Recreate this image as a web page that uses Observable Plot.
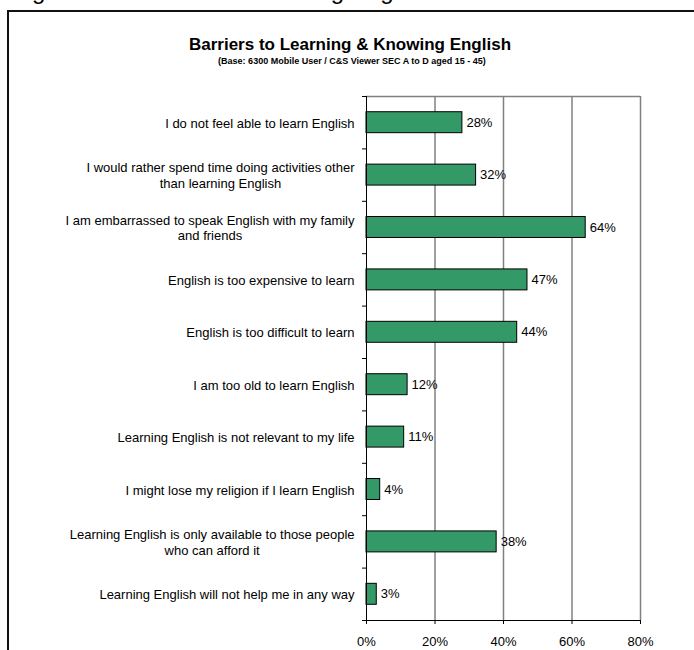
<!DOCTYPE html>
<html><head><meta charset="utf-8">
<script src="https://cdn.jsdelivr.net/npm/d3@7"></script>
<script src="https://cdn.jsdelivr.net/npm/@observablehq/plot@0.6"></script>
<style>
html,body{margin:0;padding:0;background:#fff;}
body{overflow:hidden;width:694px;height:650px;position:relative;font-family:"Liberation Sans",Arial,sans-serif;color:#000;}
#cap{position:absolute;left:12px;top:-21px;font-size:24px;line-height:24px;white-space:nowrap;}
#box{position:absolute;left:7px;top:10px;width:900px;height:900px;border-left:2px solid #111;border-top:2px solid #111;}
#title{position:absolute;left:0;width:700px;top:36px;text-align:center;font-size:17px;font-weight:bold;line-height:17px;white-space:nowrap;}
#sub{position:absolute;left:0;width:704px;top:57px;text-align:center;font-size:9px;font-weight:bold;line-height:9px;white-space:nowrap;}
#chart{position:absolute;left:0;top:80px;}
</style></head><body>
<div id="cap">Figure 4.3: Barriers to Learning English</div>
<div id="box"></div>
<div id="title">Barriers to Learning &amp; Knowing English</div>
<div id="sub">(Base: 6300 Mobile User / C&amp;S Viewer SEC A to D aged 15 - 45)</div>
<div id="chart"></div>
<script>
const categories = [
  "I do not feel able to learn English",
  "I would rather spend time doing activities other\nthan learning English",
  "I am embarrassed to speak English with my family\nand friends",
  "English is too expensive to learn",
  "English is too difficult to learn",
  "I am too old to learn English",
  "Learning English is not relevant to my life",
  "I might lose my religion if I learn English",
  "Learning English is only available to those people\nwho can afford it",
  "Learning English will not help me in any way"
];
const values = [28, 32, 64, 47, 44, 12, 11, 4, 38, 3];
const xTicks = [0, 20, 40, 60, 80];
const gridTicks = [20, 40, 60, 80];

const data = categories.map((c, i) => ({label: c, value: values[i]}));

const W = 694, H = 570, mTop = 16, mBottom = 30, mLeft = 366, mRight = 54;
const step = (H - mTop - mBottom) / categories.length;
const font = "'Liberation Sans', Arial, sans-serif";
const fs = 13;

const ctx = document.createElement("canvas").getContext("2d");
ctx.font = `${fs}px 'Liberation Sans'`;
const labelWidth = (s) => Math.max(...s.split("\n").map(l => ctx.measureText(l).width));
const gap = 12;

const labelMarks = categories.map(c => Plot.text([c], {
  y: d => d, frameAnchor: "left", text: d => d, textAnchor: "middle",
  dx: -(gap + labelWidth(c) / 2), lineHeight: 1.2, fontSize: fs, fill: "#000"
}));

const chart = Plot.plot({
  width: W, height: H,
  marginTop: mTop, marginBottom: mBottom, marginLeft: mLeft, marginRight: mRight,
  style: {fontFamily: font, fontSize: fs + "px", color: "#000", background: "transparent"},
  x: {domain: [0, 80], ticks: xTicks, tickFormat: d => d + "%", label: null},
  y: {domain: categories, paddingInner: 0.6, paddingOuter: 0.3, round: false, axis: null},
  marks: [
    Plot.ruleX(gridTicks, {stroke: "#808080", strokeWidth: 1.5}),
    Plot.ruleY([categories[0]], {y: d => d, dy: -step / 2, x1: 0, x2: 80, stroke: "#808080", strokeWidth: 1.5}),
    Plot.barX(data, {y: "label", x: "value", fill: "#339966", stroke: "#000", strokeWidth: 1}),
    Plot.ruleX([0], {stroke: "#000", strokeWidth: 1}),
    Plot.ruleY([categories[categories.length - 1]], {y: d => d, dy: step / 2, x1: 0, x2: 80, stroke: "#000", strokeWidth: 1}),
    Plot.ruleY(categories, {y: d => d, dy: step / 2, x1: 0, x2: 0, insetLeft: -4, stroke: "#000"}),
    Plot.ruleY([categories[0]], {y: d => d, dy: -step / 2, x1: 0, x2: 0, insetLeft: -4, stroke: "#000"}),
    Plot.axisX({ticks: xTicks, tickFormat: d => d + "%", tickSize: 4, tickPadding: 12, fontSize: fs, label: null, stroke: "#000"}),
    Plot.text(data, {y: "label", x: "value", text: d => d.value + "%", textAnchor: "start", dx: 4, fontSize: fs, fill: "#000"}),
    ...labelMarks
  ]
});
document.getElementById("chart").appendChild(chart);
</script>
</body></html>
